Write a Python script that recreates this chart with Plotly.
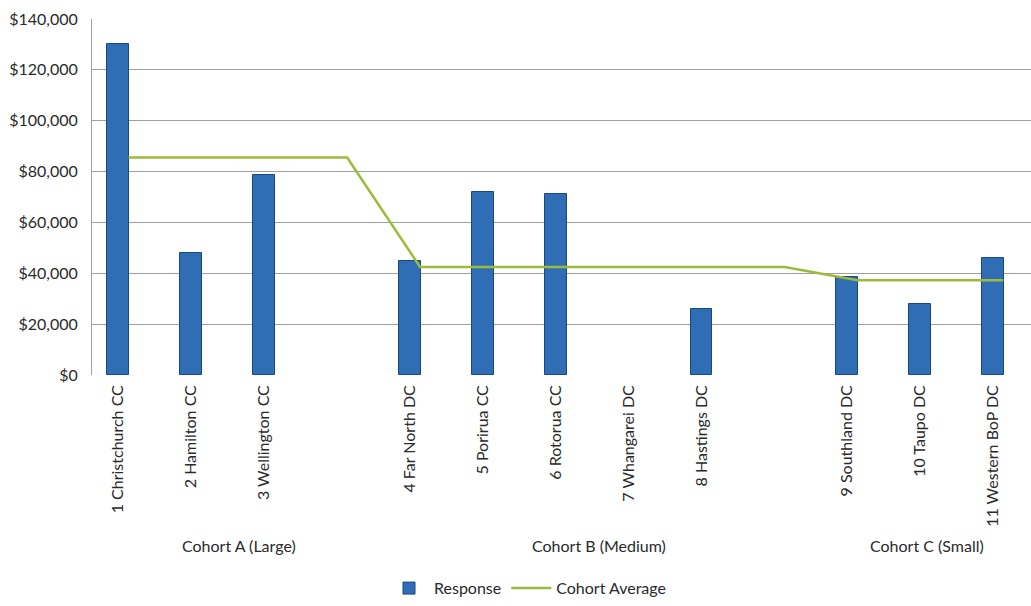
import plotly.graph_objects as go

# Slots (including empty gap slots between cohorts)
slot_labels = ["1 Christchurch CC", "2 Hamilton CC", "3 Wellington CC", "",
               "4 Far North DC", "5 Porirua CC", "6 Rotorua CC", "7 Whangarei DC", "8 Hastings DC", "",
               "9 Southland DC", "10 Taupo DC", "11 Western BoP DC"]
response = [130000, 48000, 78500, None,
            45000, 72000, 71000, None, 26000, None,
            38500, 27800, 46000]
cohort_avg = [85500, 85500, 85500, 85500,
              42500, 42500, 42500, 42500, 42500, 42500,
              37300, 37300, 37300]
cohort_names = ["Cohort A (Large)", "Cohort B (Medium)", "Cohort C (Small)"]
cohort_pos = [1.65, 6.6, 11.1]
y_ticks = [0, 20000, 40000, 60000, 80000, 100000, 120000, 140000]

xs = list(range(len(slot_labels)))
tick_x = [i for i, l in enumerate(slot_labels) if l]
tick_t = [l for l in slot_labels if l]

FONT = "Lato, 'Open Sans', sans-serif"
TXT = "#2a2a2a"
L, T, B = 92, 19, 228
plot_h = 606 - T - B
plot_w = 1031 - L


def py(pix):
    return (606 - B - pix) / plot_h


fig = go.Figure()
fig.add_trace(go.Bar(
    x=xs, y=response, name="Response", width=0.30,
    marker=dict(color="#2F6DB5", line=dict(color="#1A477F", width=1)),
))
fig.add_trace(go.Scatter(
    x=[x + 0.14 for x in xs], y=cohort_avg, name="Cohort Average", mode="lines",
    line=dict(color="#9DBB3A", width=2.5),
))

for name, pos in zip(cohort_names, cohort_pos):
    fig.add_annotation(x=pos, xref="x", y=py(550), yref="paper", yanchor="middle",
                       xanchor="center", text=name, showarrow=False,
                       font=dict(size=16, color=TXT, family=FONT))

fig.update_layout(
    width=1031, height=606,
    margin=dict(l=L, r=0, t=T, b=B),
    paper_bgcolor="white", plot_bgcolor="white",
    font=dict(family=FONT, color=TXT, size=16),
    showlegend=True,
    legend=dict(orientation="h", x=(384 - L) / plot_w, xanchor="left",
                y=py(593), yanchor="middle",
                font=dict(size=16, color=TXT), itemwidth=40,
                bgcolor="rgba(0,0,0,0)"),
    bargap=0,
)
fig.update_xaxes(
    range=[-0.36, 12.52], tickmode="array", tickvals=tick_x, ticktext=tick_t,
    tickangle=-90, showgrid=False, zeroline=False, showline=False,
    ticks="", ticklabelstandoff=6, tickfont=dict(size=16, color=TXT),
)
fig.update_yaxes(
    range=[0, 140000], tickvals=y_ticks,
    ticktext=["$" + format(v, ",") for v in y_ticks],
    showgrid=True, gridcolor="#a0a0a0", gridwidth=1, zeroline=False,
    showline=True, linecolor="#a0a0a0", linewidth=1,
    ticks="", ticklen=0, ticklabelstandoff=10, tickfont=dict(size=16, color=TXT),
)
fig.write_html("out.html")
